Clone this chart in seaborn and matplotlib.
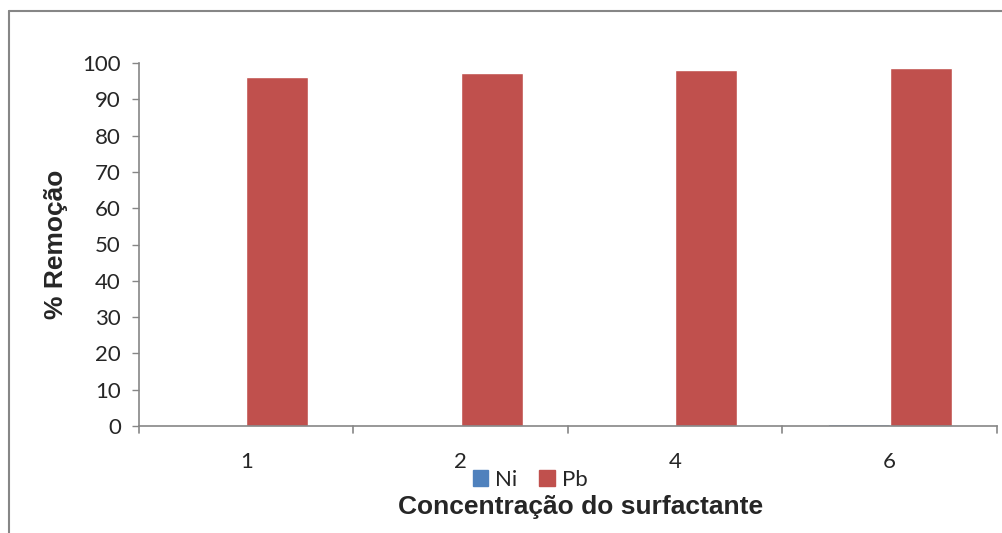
import pandas as pd
import matplotlib
matplotlib.use("Agg")
import matplotlib.pyplot as plt
from matplotlib.lines import Line2D
from matplotlib.patches import Patch
import seaborn as sns

# dados
concentracoes = ["1", "2", "4", "6"]
ni = [0.0, 0.0, 0.0, 0.6]
pb = [96.2, 97.3, 98.1, 98.5]

df = pd.DataFrame({
    "conc": concentracoes * 2,
    "metal": ["Ni"] * 4 + ["Pb"] * 4,
    "remocao": ni + pb,
})

cores = {"Ni": "#4f81bd", "Pb": "#c0504d"}
cinza = "#868686"

sns.set_style("white")
plt.rcParams["font.family"] = ["Lato", "DejaVu Sans"]

fig = plt.figure(figsize=(10.03, 5.33), dpi=100)
ax = fig.add_axes([139 / 1003, 1 - 426 / 533, (997 - 139) / 1003, (426 - 63) / 533])

sns.barplot(data=df, x="conc", y="remocao", hue="metal", palette=cores,
            width=0.58, saturation=1, ax=ax, legend=False, errorbar=None)

ax.set_xlim(-0.5, 3.5)
ax.set_ylim(0, 100)
ax.set_yticks(range(0, 101, 10))
ax.tick_params(axis="y", labelsize=16, length=5, width=1, color=cinza, direction="out", pad=8, left=True)
ax.tick_params(axis="x", labelsize=16, length=0, pad=19)
for s in ["top", "right"]:
    ax.spines[s].set_visible(False)
for s in ["left", "bottom"]:
    ax.spines[s].set_color(cinza)
    ax.spines[s].set_linewidth(1.2)

# marcas entre as categorias
for xb in [-0.5, 0.5, 1.5, 2.5, 3.5]:
    ax.plot([xb, xb], [0, -0.018], transform=ax.get_xaxis_transform(),
            color=cinza, lw=1.2, clip_on=False)

ax.set_xlabel("")
ax.set_ylabel("% Remoção", fontsize=19, fontweight="bold", family="Liberation Sans")
ax.yaxis.set_label_coords((68 - 139) / 858, 0.5)
fig.text(581 / 1003, 1 - 507 / 533, "Concentração do surfactante", ha="center", va="center",
         fontsize=19, fontweight="bold", family="Liberation Sans")

handles = [Patch(color=cores["Ni"], label="Ni"), Patch(color=cores["Pb"], label="Pb")]
fig.legend(handles=handles, loc="center", bbox_to_anchor=(530 / 1003, 1 - 480 / 533), ncol=2,
           frameon=False, fontsize=16, handlelength=0.7, handleheight=0.7,
           handletextpad=0.3, columnspacing=1.0, borderpad=0, borderaxespad=0)

# moldura externa
fig.add_artist(Line2D([9 / 1003, 1], [1 - 11 / 533, 1 - 11 / 533], color=cinza, lw=1.5))
fig.add_artist(Line2D([9 / 1003, 9 / 1003], [0, 1 - 11 / 533], color=cinza, lw=1.5))

fig.savefig("out.png", dpi=100)
